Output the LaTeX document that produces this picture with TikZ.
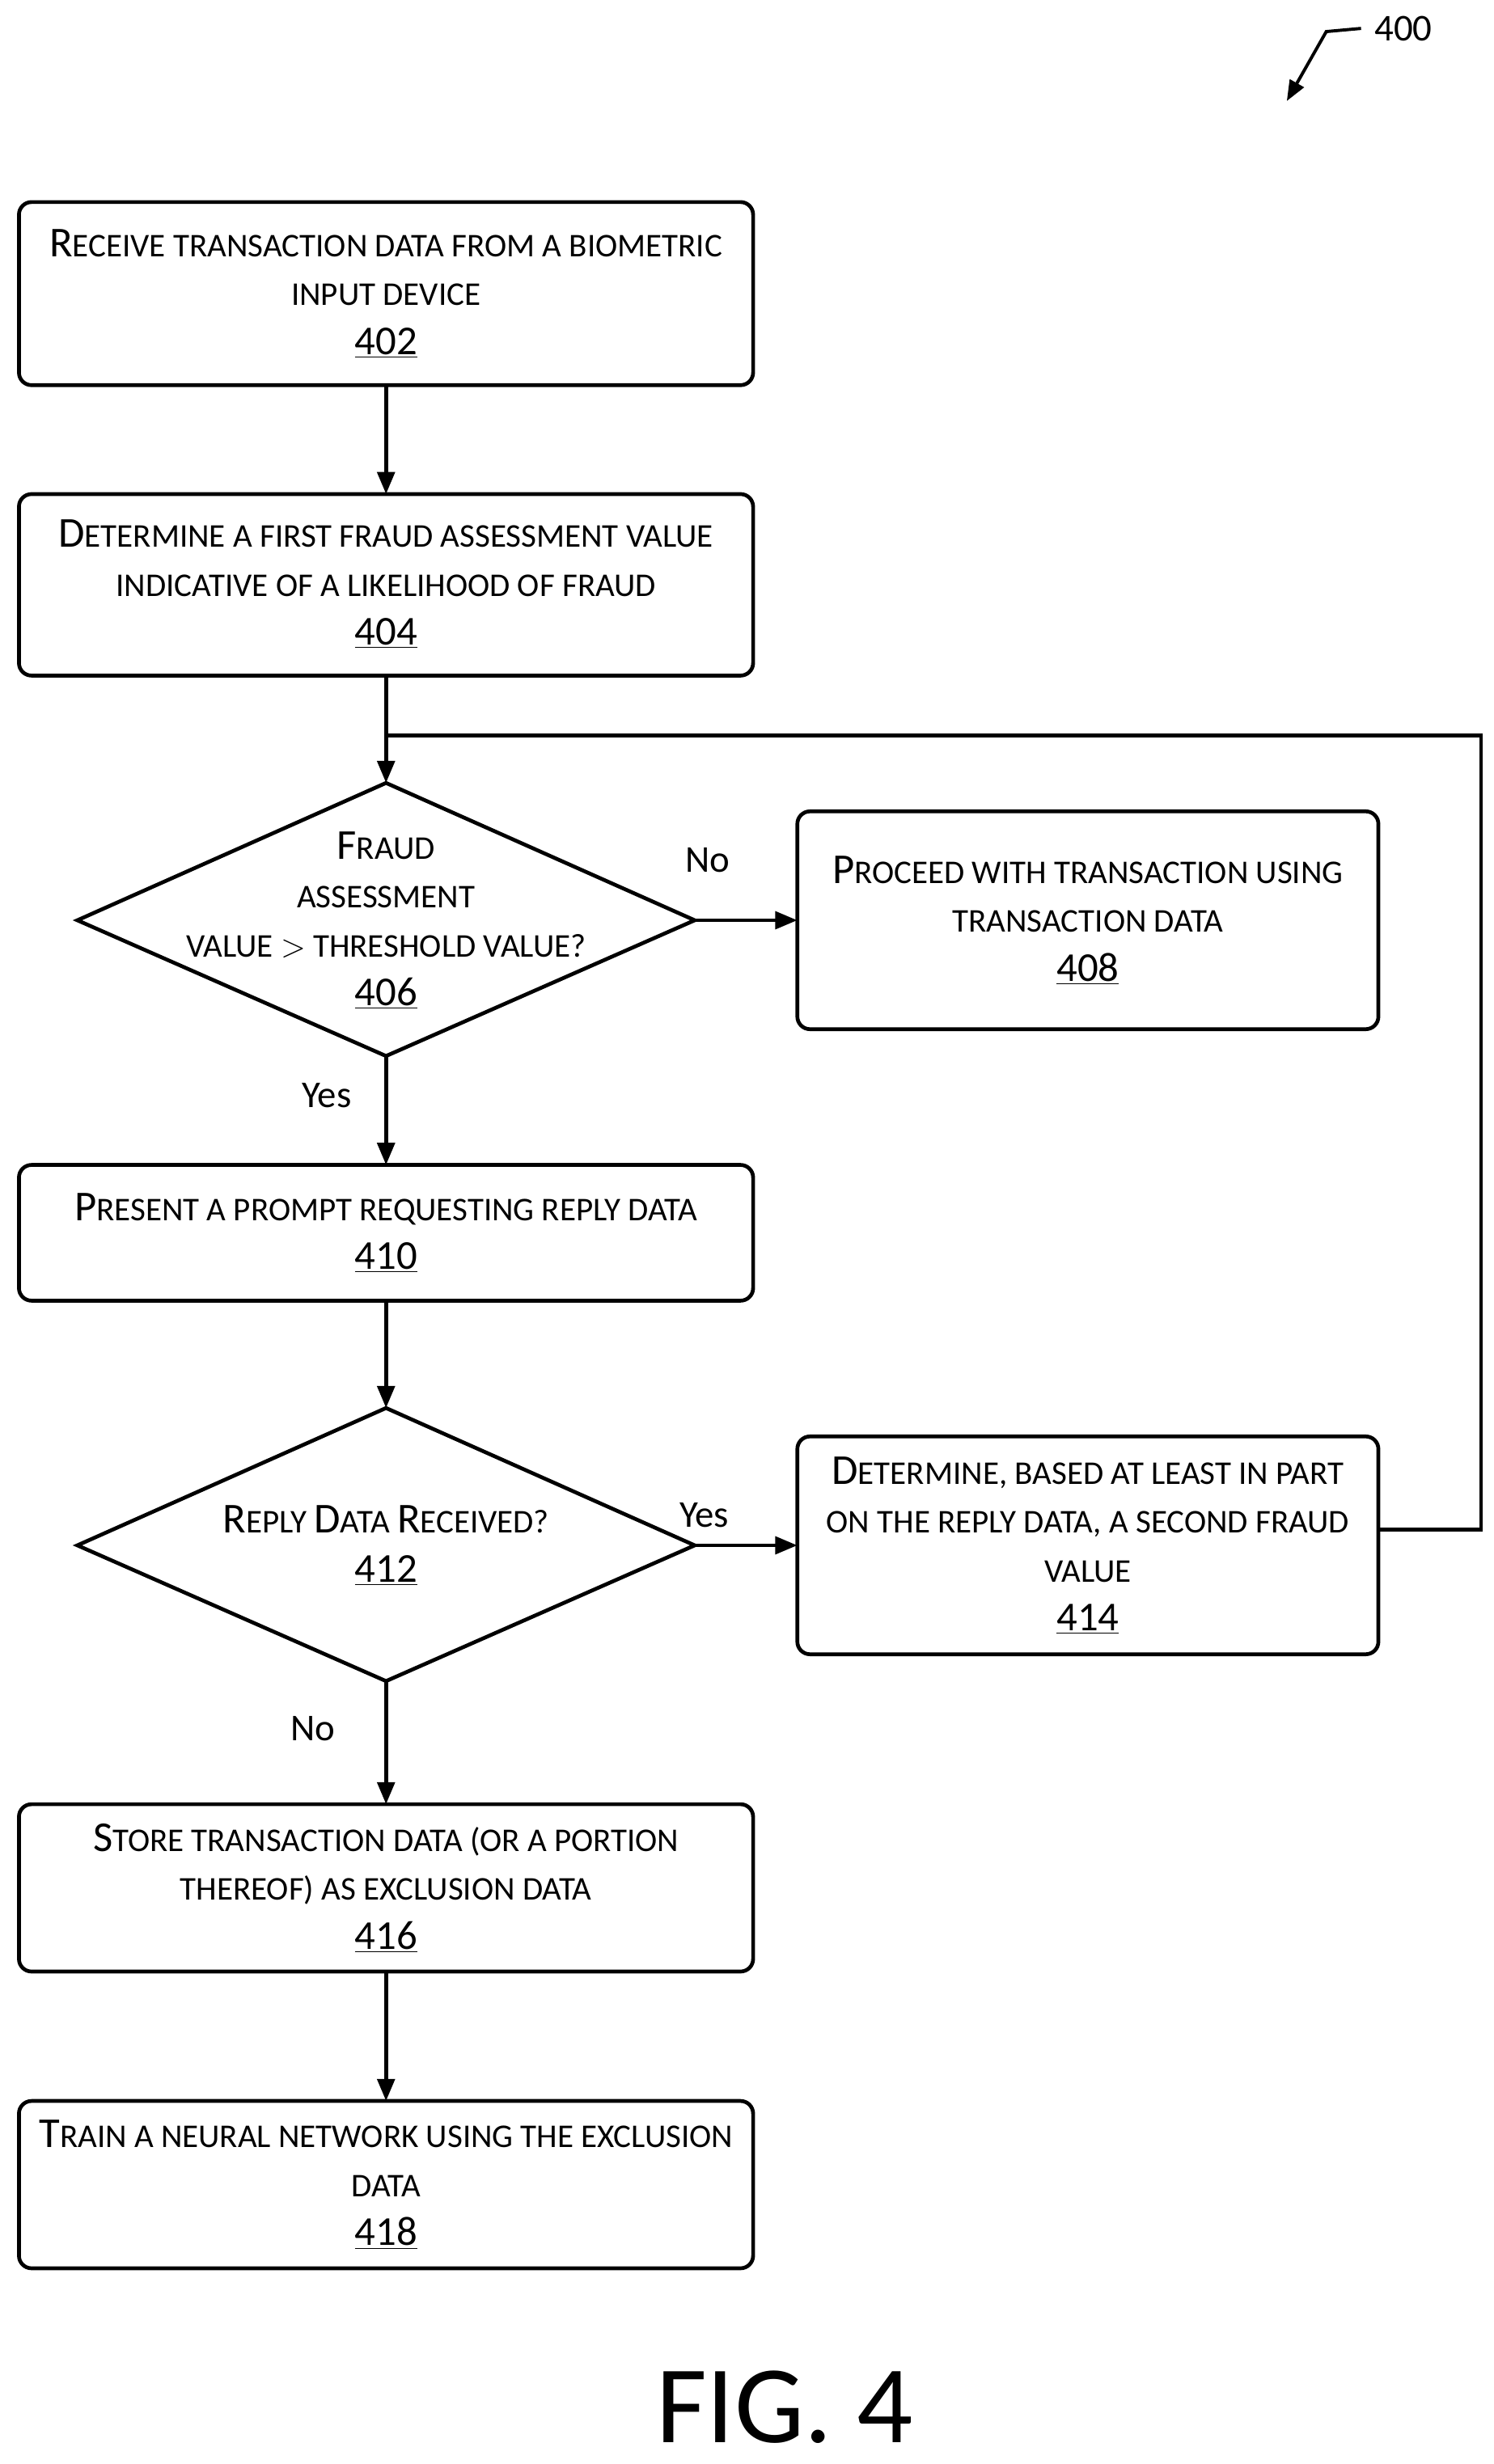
\documentclass[tikz,border=0pt]{standalone}
\usepackage{fontspec}
\setmainfont{Carlito}
\usetikzlibrary{arrows.meta,shapes.geometric}
\newcommand\C[1]{{\fontsize{27}{31}\selectfont #1}}
\newcommand\N[1]{{\fontsize{26}{31}\selectfont\underline{#1}}}
\begin{document}
\begin{tikzpicture}[x=1pt,y=-1pt,
  line width=2.4pt,
  box/.style={draw,rounded corners=8pt,align=center,font=\fontsize{21}{31}\selectfont,inner sep=0pt},
  lbl/.style={font=\fontsize{24}{28}\selectfont},
  arr/.style={-{Triangle[length=14pt,width=11pt]}}]
\useasboundingbox (0,0) rectangle (946,1561);
\draw[box] (12,128) rectangle (477,244);
\node[box,draw=none] (b402) at (244.5,186) {\C{R}ECEIVE TRANSACTION DATA FROM A BIOMETRIC\\INPUT DEVICE\\\N{402}};
\draw[box] (12,313) rectangle (477,428);
\node[box,draw=none] (b404) at (244.5,370) {\C{D}ETERMINE A FIRST FRAUD ASSESSMENT VALUE\\INDICATIVE OF A LIKELIHOOD OF FRAUD\\\N{404}};
\coordinate (t402) at (244.5,244); \coordinate (top404) at (244.5,313);
\coordinate (bot404) at (244.5,428);
\draw[arr] (t402) -- (top404);
\draw[box,rounded corners=0pt] (244.5,496) -- (440,583) -- (244.5,669) -- (49,583) -- cycle;
\node[box,draw=none] (d406) at (244.5,583) {\C{F}RAUD\\ASSESSMENT\\VALUE $>$ THRESHOLD VALUE?\\\N{406}};
\coordinate (top406) at (244.5,496);
\draw[arr] (bot404) -- (top406);
\draw[box] (505,514) rectangle (873,652);
\node[box,draw=none] (b408) at (689,583) {\C{P}ROCEED WITH TRANSACTION USING\\TRANSACTION DATA\\\N{408}};
\coordinate (r406) at (440,583); \coordinate (l408) at (505,583);
\draw[arr] (r406) -- (l408);
\node[lbl] (no1) at (448,545) {No};
\node[lbl] (yes1) at (207,694) {Yes};
\draw[box] (12,738) rectangle (477,824);
\node[box,draw=none] (b410) at (244.5,781) {\C{P}RESENT A PROMPT REQUESTING REPLY DATA\\\N{410}};
\coordinate (b406) at (244.5,669); \coordinate (t410) at (244.5,738);
\draw[arr] (b406) -- (t410);
\draw[box,rounded corners=0pt] (244.5,892) -- (440,979) -- (244.5,1065) -- (49,979) -- cycle;
\node[box,draw=none] (d412) at (244.5,979) {\C{R}EPLY \C{D}ATA \C{R}ECEIVED?\\\N{412}};
\coordinate (b410) at (244.5,824); \coordinate (t412) at (244.5,892);
\draw[arr] (b410) -- (t412);
\draw[box] (505,910) rectangle (873,1048);
\node[box,draw=none] (b414) at (689,979) {\C{D}ETERMINE, BASED AT LEAST IN PART\\ON THE REPLY DATA, A SECOND FRAUD\\VALUE\\\N{414}};
\coordinate (r412) at (440,979); \coordinate (l414) at (505,979);
\draw[arr] (r412) -- (l414);
\node[lbl] (yes2) at (446,960) {Yes};
\node[lbl] (no2) at (198,1095) {No};
\coordinate (r414) at (873,969); \coordinate (lp1) at (938,969);
\coordinate (lp2) at (938,466); \coordinate (lp3) at (244.5,466);
\draw (r414) -- (lp1) -- (lp2) -- (lp3);
\draw[box] (12,1143) rectangle (477,1249);
\node[box,draw=none] (b416) at (244.5,1196) {\C{S}TORE TRANSACTION DATA (OR A PORTION\\THEREOF) AS EXCLUSION DATA\\\N{416}};
\coordinate (b412) at (244.5,1065); \coordinate (t416) at (244.5,1143);
\draw[arr] (b412) -- (t416);
\draw[box] (12,1331) rectangle (477,1437);
\node[box,draw=none] (b418) at (244.5,1384) {\C{T}RAIN A NEURAL NETWORK USING THE EXCLUSION\\DATA\\\N{418}};
\coordinate (b416) at (244.5,1249); \coordinate (t418) at (244.5,1331);
\draw[arr] (b416) -- (t418);
\node[font=\fontsize{70}{78}\selectfont] (fig) at (497,1525) {FIG. 4};
\node[lbl,anchor=west] (n400) at (866,18) {400};
\coordinate (a1) at (862,18); \coordinate (a2) at (840,20); \coordinate (a3) at (815,64);
\draw[line width=2pt,-{Triangle[length=13pt,width=10pt]}] (a1) -- (a2) -- (a3);
\end{tikzpicture}
\end{document}
